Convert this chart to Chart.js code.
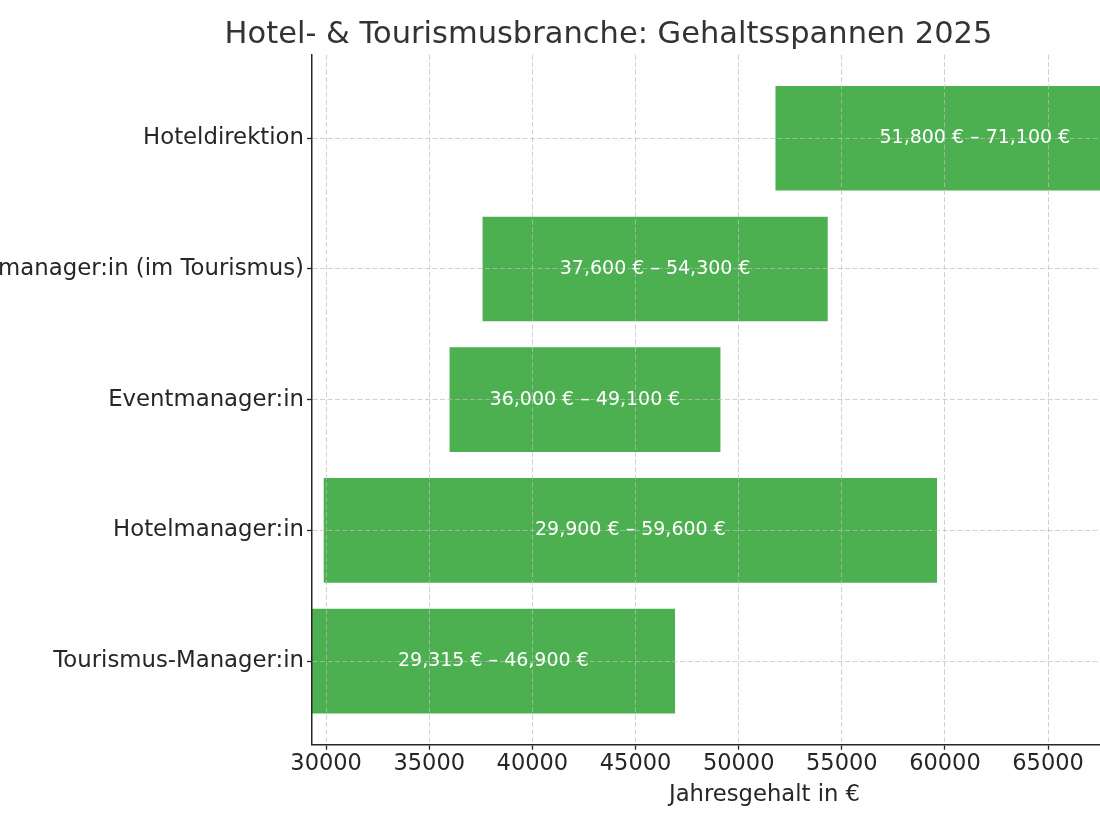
<!DOCTYPE html>
<html lang="de">
<head>
<meta charset="utf-8">
<title>Hotel- & Tourismusbranche: Gehaltsspannen 2025</title>
<script src="https://cdn.jsdelivr.net/npm/chart.js@4.4.1/dist/chart.umd.min.js"></script>
<style>
  html, body { margin: 0; padding: 0; background: #fff; overflow: hidden; }
  #wrap { position: relative; width: 1100px; height: 825px; overflow: hidden; }
  #chart { position: absolute; left: 0; top: 0; }
</style>
</head>
<body>
<div id="wrap">
  <canvas id="chart" width="1222" height="825"></canvas>
</div>
<script>
(function () {
	'use strict';

	// ─── Data (top to bottom) ───
	var jobs = ['Hoteldirektion', 'Produktmanager:in (im Tourismus)', 'Eventmanager:in', 'Hotelmanager:in', 'Tourismus-Manager:in'];
	var salaryMin = [51800, 37600, 36000, 29900, 29315];
	var salaryMax = [71100, 54300, 49100, 59600, 46900];
	var xTicks = [30000, 35000, 40000, 45000, 50000, 55000, 60000, 65000, 70000];

	var colors = {
		bar: '#4CAF50',
		text: '#262626',
		title: '#333333',
		spine: '#262626',
		grid: 'rgba(190,190,190,0.7)'
	};
	var font = "'DejaVu Sans', sans-serif";

	function euro(v) {
		return v.toLocaleString('en-US') + ' €';
	}

	var rangeLabels = jobs.map(function (j, i) {
		return euro(salaryMin[i]) + ' – ' + euro(salaryMax[i]);
	});

	var points = jobs.map(function (j, i) {
		return { y: i, x: [salaryMin[i], salaryMax[i]] };
	});

	// ─── Range labels on the bars ───
	var barLabels = {
		id: 'barLabels',
		afterDraw: function (chart) {
			var ctx = chart.ctx;
			var xs = chart.scales.x;
			var meta = chart.getDatasetMeta(0);
			ctx.save();
			ctx.fillStyle = '#ffffff';
			ctx.font = '19px ' + font;
			ctx.textAlign = 'center';
			ctx.textBaseline = 'middle';
			meta.data.forEach(function (bar, i) {
				var cx = (xs.getPixelForValue(salaryMin[i]) + xs.getPixelForValue(salaryMax[i])) / 2;
				ctx.fillText(rangeLabels[i], cx, bar.y);
			});
			ctx.restore();
		}
	};

	var dataMin = Math.min.apply(null, salaryMin);
	var dataMax = Math.max.apply(null, salaryMax);

	// grid + spine drawn above the bars, like matplotlib's default
	var gridOpts = {
		z: 1,
		color: colors.grid,
		lineWidth: 1,
		offset: false,
		drawTicks: true,
		tickLength: 5,
		tickColor: colors.spine,
		tickWidth: 1.3,
		tickBorderDash: []
	};
	var borderOpts = { display: true, z: 2, color: colors.spine, width: 1.5, dash: [5, 2.5] };

	new Chart(document.getElementById('chart').getContext('2d'), {
		type: 'bar',
		data: {
			datasets: [{
				data: points,
				backgroundColor: colors.bar,
				borderWidth: 0,
				barThickness: 104
			}]
		},
		options: {
			indexAxis: 'y',
			responsive: false,
			animation: false,
			devicePixelRatio: 1,
			layout: { padding: { left: 0, right: 5, top: 0, bottom: 12 } },
			plugins: {
				legend: { display: false },
				tooltip: { enabled: false },
				title: {
					display: true,
					text: 'Hotel- & Tourismusbranche: Gehaltsspannen 2025',
					color: colors.title,
					font: { family: font, size: 30.5, weight: 'normal' },
					padding: { top: 17, bottom: 1 }
				}
			},
			scales: {
				x: {
					type: 'linear',
					min: dataMin,
					max: dataMax + 0.05 * (dataMax - dataMin),
					afterBuildTicks: function (scale) {
						scale.ticks = xTicks.map(function (v) { return { value: v }; });
					},
					ticks: {
						z: 1,
						color: colors.text,
						font: { family: font, size: 22.5 },
						padding: 1,
						maxRotation: 0,
						autoSkip: false,
						callback: function (v) { return String(v); }
					},
					grid: gridOpts,
					border: borderOpts,
					title: {
						display: true,
						text: 'Jahresgehalt in €',
						color: colors.text,
						font: { family: font, size: 22.7 },
						padding: { top: 3, bottom: 4 }
					}
				},
				y: {
					type: 'linear',
					reverse: true,
					offset: false,
					min: -0.64,
					max: jobs.length - 1 + 0.64,
					afterBuildTicks: function (scale) {
						scale.ticks = jobs.map(function (j, i) { return { value: i }; });
					},
					afterFit: function (scale) {
						scale.width = 312;
					},
					ticks: {
						z: 1,
						color: colors.text,
						font: { family: font, size: 22.8 },
						padding: 3,
						autoSkip: false,
						callback: function (v) { return jobs[v]; }
					},
					grid: gridOpts,
					border: borderOpts
				}
			}
		},
		plugins: [barLabels]
	});
})();
</script>
</body>
</html>
